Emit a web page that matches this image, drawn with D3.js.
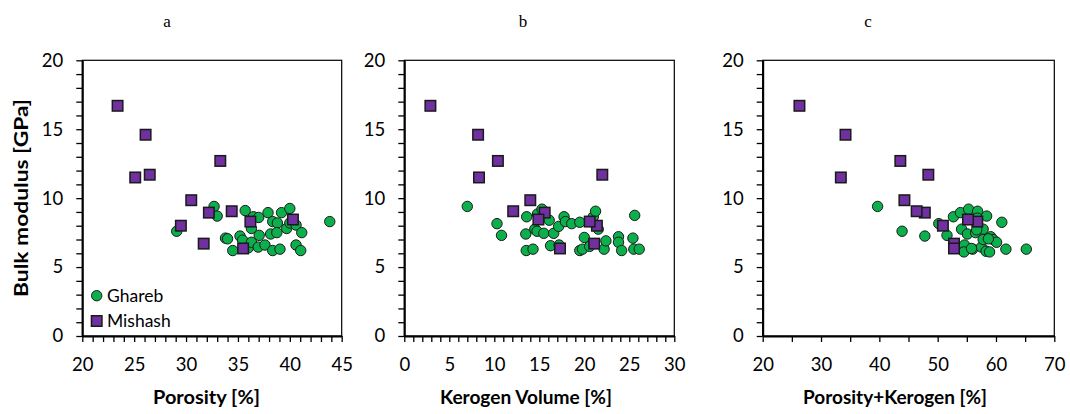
<!DOCTYPE html>
<html>
<head>
<meta charset="utf-8">
<script src="https://cdn.jsdelivr.net/npm/d3@7"></script>
<style>
  body { margin: 0; background: #fff; }
  svg { display: block; font-family: Lato, "Open Sans", sans-serif; }
</style>
</head>
<body>
<script>
// tick values
const yTicks = [0, 5, 10, 15, 20];
const porosityTicks = [20, 25, 30, 35, 40, 45];
const kerogenTicks = [0, 5, 10, 15, 20, 25, 30];
const sumTicks = [20, 30, 40, 50, 60, 70];

// Mishash (same samples in all panels)
const mishashPorosity = [23.4, 26.1, 25.1, 26.5, 33.3, 30.5, 29.5, 32.2, 34.4, 31.7, 36.2, 40.3, 35.5];
const mishashKerogen  = [2.9, 8.2, 8.3, 22.0, 10.4, 14.0, 21.4, 15.6, 12.1, 21.1, 20.6, 14.9, 17.3];
const mishashSum      = [26.3, 34.2, 33.4, 48.4, 43.6, 44.3, 50.9, 47.8, 46.4, 52.8, 56.8, 55.2, 52.8];
const mishashK        = [16.7, 14.6, 11.5, 11.7, 12.7, 9.85, 8.0, 8.95, 9.05, 6.7, 8.3, 8.45, 6.35];

// Ghareb, read per panel
const gharebPorosityA = [29.1, 32.7, 33.0, 33.8, 34.0, 34.5, 35.2, 35.45, 35.7, 36.0, 36.3, 36.3, 36.5, 37.0, 37.05, 36.95, 37.6, 37.9, 38.15, 38.35, 38.35, 38.8, 38.75, 39.05, 39.2, 39.7, 40.0, 40.0, 40.6, 40.6, 41.05, 41.15, 43.85];
const gharebKA        = [7.6, 9.4, 8.7, 7.1, 7.05, 6.2, 7.25, 6.95, 9.1, 6.4, 6.8, 7.8, 8.65, 8.6, 7.3, 6.45, 6.6, 8.95, 7.4, 8.3, 6.2, 8.2, 7.5, 6.3, 8.95, 7.8, 9.25, 8.2, 8.05, 6.6, 6.2, 7.5, 8.3];

const gharebKerogenB = [7.0, 10.3, 10.8, 13.6, 13.5, 13.55, 14.3, 14.5, 14.75, 14.8, 15.3, 15.5, 16.1, 16.25, 16.6, 17.15, 17.2, 17.75, 17.9, 18.6, 19.5, 19.5, 19.8, 20.0, 20.6, 21.0, 21.25, 21.55, 22.2, 22.4, 23.8, 23.8, 24.15, 25.4, 25.6, 25.5, 26.1];
const gharebKB       = [9.4, 8.15, 7.3, 8.65, 7.4, 6.2, 6.3, 7.75, 7.6, 8.85, 9.2, 7.45, 8.4, 6.55, 7.45, 7.95, 6.6, 8.65, 8.3, 8.15, 8.25, 6.2, 6.3, 7.15, 6.5, 8.65, 9.05, 7.75, 6.3, 6.9, 7.2, 6.8, 6.2, 7.1, 8.75, 6.3, 6.3];

const gharebSumC = [39.7, 43.9, 47.8, 50.2, 51.6, 52.7, 53.9, 54.1, 54.6, 54.5, 55.1, 55.3, 56.0, 56.5, 56.85, 56.8, 57.5, 57.8, 57.8, 58.4, 58.3, 58.9, 59.1, 59.5, 60.1, 61.0, 61.7, 65.2, 58.7, 55.8, 56.7];
const gharebKC   = [9.4, 7.6, 7.25, 8.15, 7.3, 8.65, 8.95, 7.75, 6.6, 6.1, 7.4, 9.2, 6.3, 7.5, 9.05, 8.55, 6.45, 7.75, 7.0, 8.7, 6.15, 6.1, 7.2, 7.0, 6.8, 8.25, 6.3, 6.3, 7.05, 6.35, 7.7];

const W = 1070, H = 414;
const plotTop = 60.3, plotBottom = 336;
const green = "#0bb04d", purple = "#7030a0";

const svg = d3.select("body").append("svg")
    .attr("width", W)
    .attr("height", H);

const y = d3.scaleLinear().domain([0, 20]).range([plotBottom, plotTop]);

const panels = [
  { letter: "a", lx: 167, x0: 82.3, x1: 341.7, ticks: porosityTicks, minor: 1, title: "Porosity [%]",
    tx: 206.5, tw: 107, gx: gharebPorosityA, gy: gharebKA, mx: mishashPorosity, legend: true },
  { letter: "b", lx: 523, x0: 404.3, x1: 674.3, ticks: kerogenTicks, minor: 1, title: "Kerogen Volume [%]",
    tx: 526, tw: 172, gx: gharebKerogenB, gy: gharebKB, mx: mishashKerogen },
  { letter: "c", lx: 868, x0: 762.7, x1: 1054.3, ticks: sumTicks, minor: 5, title: "Porosity+Kerogen [%]",
    tx: 895, tw: 184, gx: gharebSumC, gy: gharebKC, mx: mishashSum }
];

panels.forEach(p => {
  const lo = p.ticks[0], hi = p.ticks[p.ticks.length - 1];
  const x = d3.scaleLinear().domain([lo, hi]).range([p.x0, p.x1]);
  const g = svg.append("g");

  // frame (top/right)
  g.append("rect")
    .attr("x", p.x0).attr("y", plotTop)
    .attr("width", p.x1 - p.x0).attr("height", plotBottom - plotTop)
    .attr("fill", "none").attr("stroke", "#000").attr("stroke-width", 1.2);

  // y axis
  const ya = g.append("g")
    .attr("transform", `translate(${p.x0},0)`)
    .call(d3.axisLeft(y)
      .tickValues(d3.range(0, 21, 1))
      .tickFormat(d => yTicks.includes(d) ? d : "")
      .tickSize(6).tickSizeOuter(0).tickPadding(13));
  ya.select(".domain").attr("stroke-width", 2);
  ya.selectAll(".tick line").attr("stroke-width", 1.3);
  ya.selectAll("text").attr("font-size", 18.5).attr("fill", "#000").attr("font-family", "Lato");

  // x axis
  const xa = g.append("g")
    .attr("transform", `translate(0,${plotBottom})`)
    .call(d3.axisBottom(x)
      .tickValues(d3.range(lo, hi + 0.001, p.minor))
      .tickFormat(d => p.ticks.includes(d) ? d : "")
      .tickSize(6).tickSizeOuter(0).tickPadding(16));
  xa.select(".domain").attr("stroke-width", 2);
  xa.selectAll(".tick line").attr("stroke-width", 1.3);
  xa.selectAll("text").attr("font-size", 18.5).attr("fill", "#000").attr("font-family", "Lato");

  // Ghareb circles
  g.append("g").selectAll("circle")
    .data(p.gx.map((v, i) => [v, p.gy[i]]))
    .join("circle")
    .attr("cx", d => x(d[0]))
    .attr("cy", d => y(d[1]))
    .attr("r", 5.2)
    .attr("fill", green)
    .attr("stroke", "#1a1a1a")
    .attr("stroke-width", 1);

  // Mishash squares
  const s = 10.5;
  g.append("g").selectAll("rect")
    .data(p.mx.map((v, i) => [v, mishashK[i]]))
    .join("rect")
    .attr("x", d => x(d[0]) - s / 2)
    .attr("y", d => y(d[1]) - s / 2)
    .attr("width", s).attr("height", s)
    .attr("fill", purple)
    .attr("stroke", "#1a1a1a")
    .attr("stroke-width", 1.5);

  // panel letter
  svg.append("text")
    .attr("x", p.lx).attr("y", 27)
    .attr("text-anchor", "middle")
    .attr("font-family", "Liberation Serif, Times New Roman, serif")
    .attr("font-size", 17)
    .text(p.letter);

  // x title
  svg.append("text")
    .attr("x", p.tx).attr("y", 404)
    .attr("text-anchor", "middle")
    .attr("font-weight", "bold")
    .attr("font-size", 19.5)
    .attr("textLength", p.tw)
    .attr("lengthAdjust", "spacingAndGlyphs")
    .text(p.title);

  if (p.legend) {
    const lg = g.append("g");
    lg.append("circle").attr("cx", 96.7).attr("cy", 295.7).attr("r", 5.2)
      .attr("fill", green).attr("stroke", "#1a1a1a");
    lg.append("text").attr("x", 107).attr("y", 302).attr("font-size", 17.5).text("Ghareb");
    lg.append("rect").attr("x", 96.7 - s / 2).attr("y", 321 - s / 2).attr("width", s).attr("height", s)
      .attr("fill", purple).attr("stroke", "#1a1a1a").attr("stroke-width", 1.5);
    lg.append("text").attr("x", 107).attr("y", 327).attr("font-size", 17.5).text("Mishash");
  }
});

// y title
svg.append("text")
  .attr("transform", "translate(28,198) rotate(-90)")
  .attr("text-anchor", "middle")
  .attr("font-weight", "bold")
  .attr("font-size", 19.5)
  .attr("textLength", 198)
  .attr("lengthAdjust", "spacingAndGlyphs")
  .text("Bulk modulus [GPa]");
</script>
</body>
</html>
